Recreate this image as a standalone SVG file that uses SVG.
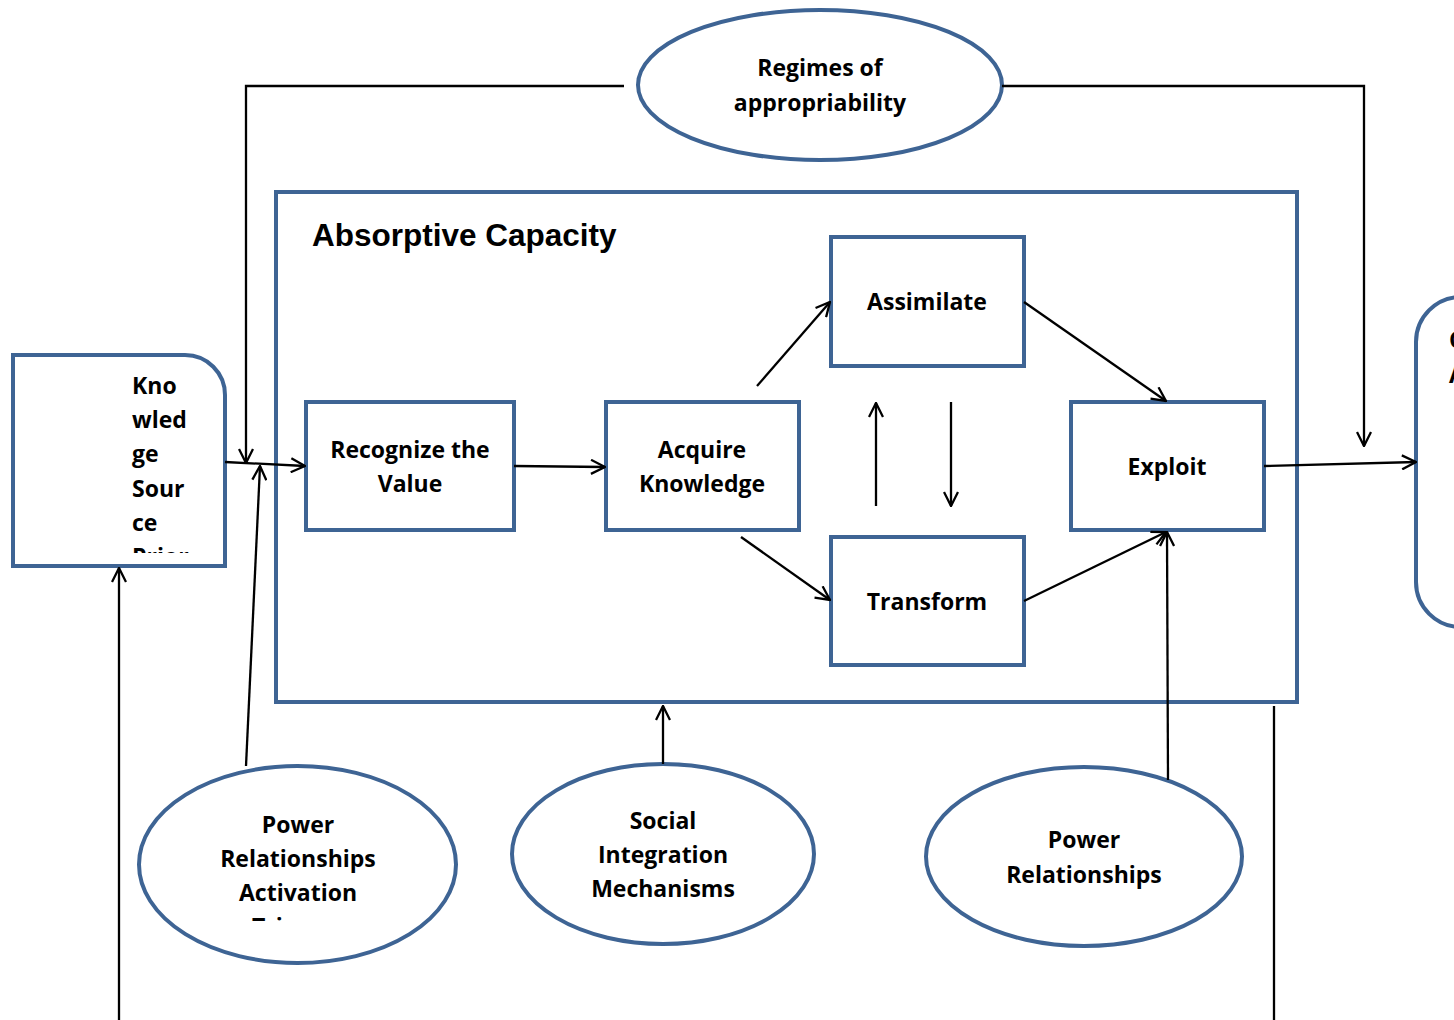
<svg xmlns="http://www.w3.org/2000/svg" width="1454" height="1020" viewBox="0 0 1454 1020">
<style>
.box{fill:#fff;stroke:#3E6494;stroke-width:4}
.t{font-family:"Open Sans","Noto Sans",sans-serif;font-weight:bold;font-size:23px;fill:#000;text-anchor:middle}
.tl{font-family:"Open Sans","Noto Sans",sans-serif;font-weight:bold;font-size:23px;fill:#000}
.title{font-family:"Liberation Sans",Arial,sans-serif;font-weight:bold;font-size:31.5px;fill:#000}
.c{fill:none;stroke:#000;stroke-width:2.3}
</style>
<defs>
<marker id="ah" viewBox="0 0 16 16" refX="15" refY="8" markerWidth="16" markerHeight="16" markerUnits="userSpaceOnUse" orient="auto">
<path d="M1,1 L15,8 L1,15" fill="none" stroke="#000" stroke-width="2.3"/>
</marker>
<clipPath id="ksclip"><rect x="0" y="360" width="260" height="193"/></clipPath>
<clipPath id="praclip"><rect x="130" y="760" width="340" height="161"/></clipPath>
</defs>

<g id="absorptive-capacity">
<rect class="box" x="276" y="192" width="1021" height="510"/>
<text class="title" x="312" y="246">Absorptive Capacity</text>
</g>

<g id="knowledge-source">
<path class="box" d="M13,355 H185 A40,40 0 0 1 225,395 V566 H13 Z"/>
<g clip-path="url(#ksclip)">
<text class="tl" x="132" y="394">Kno</text>
<text class="tl" x="132" y="428">wled</text>
<text class="tl" x="132" y="462">ge</text>
<text class="tl" x="132" y="497">Sour</text>
<text class="tl" x="132" y="531">ce</text>
<text class="tl" x="132" y="565">Prior</text>
</g>
</g>

<g id="competitive-advantage">
<path class="box" d="M1470,297 H1461 A45,45 0 0 0 1416,342 V582 A45,45 0 0 0 1461,627 H1470"/>
<text class="tl" x="1449" y="348">Competitive</text>
<text class="tl" x="1449" y="383">Advantage</text>
</g>

<g id="recognize">
<rect class="box" x="306" y="402" width="208" height="128"/>
<text class="t" x="410" y="458">Recognize the</text>
<text class="t" x="410" y="492">Value</text>
</g>

<g id="acquire">
<rect class="box" x="606" y="402" width="193" height="128"/>
<text class="t" x="702" y="458">Acquire</text>
<text class="t" x="702" y="492">Knowledge</text>
</g>

<g id="assimilate">
<rect class="box" x="831" y="237" width="193" height="129"/>
<text class="t" x="927" y="310">Assimilate</text>
</g>

<g id="transform">
<rect class="box" x="831" y="537" width="193" height="128"/>
<text class="t" x="927" y="610">Transform</text>
</g>

<g id="exploit">
<rect class="box" x="1071" y="402" width="193" height="128"/>
<text class="t" x="1167" y="475">Exploit</text>
</g>

<g id="regimes">
<ellipse class="box" cx="820" cy="85" rx="182" ry="75"/>
<text class="t" x="820" y="76">Regimes of</text>
<text class="t" x="820" y="111">appropriability</text>
</g>

<g id="power-activation">
<ellipse class="box" cx="297.5" cy="864.5" rx="158.5" ry="98.5"/>
<g clip-path="url(#praclip)">
<text class="t" x="298" y="833">Power</text>
<text class="t" x="298" y="867">Relationships</text>
<text class="t" x="298" y="901">Activation</text>
<text class="t" x="298" y="935">Triggers</text>
</g>
</g>

<g id="social-integration">
<ellipse class="box" cx="663" cy="854" rx="151" ry="90"/>
<text class="t" x="663" y="829">Social</text>
<text class="t" x="663" y="863">Integration</text>
<text class="t" x="663" y="897">Mechanisms</text>
</g>

<g id="power-relationships">
<ellipse class="box" cx="1084" cy="856.5" rx="158" ry="89.5"/>
<text class="t" x="1084" y="848">Power</text>
<text class="t" x="1084" y="883">Relationships</text>
</g>

<g id="connectors">
<path class="c" d="M624,86 H246 V463" marker-end="url(#ah)"/>
<path class="c" d="M1002,86 H1364 V446" marker-end="url(#ah)"/>
<path class="c" d="M225,462 L305,466" marker-end="url(#ah)"/>
<path class="c" d="M246,766 L260,466" marker-end="url(#ah)"/>
<path class="c" d="M119,1020 V568" marker-end="url(#ah)"/>
<path class="c" d="M514,466 L605,467" marker-end="url(#ah)"/>
<path class="c" d="M757,386 L830,302" marker-end="url(#ah)"/>
<path class="c" d="M741,537 L830,600" marker-end="url(#ah)"/>
<path class="c" d="M876,506 V403" marker-end="url(#ah)"/>
<path class="c" d="M951,402 V506" marker-end="url(#ah)"/>
<path class="c" d="M1024,302 L1166,401" marker-end="url(#ah)"/>
<path class="c" d="M1024,601 L1166,532" marker-end="url(#ah)"/>
<path class="c" d="M1168,780 L1167,532" marker-end="url(#ah)"/>
<path class="c" d="M1264,466 L1416,462" marker-end="url(#ah)"/>
<path class="c" d="M663,764 V706" marker-end="url(#ah)"/>
<path class="c" d="M1274,706 V1020"/>
</g>
</svg>
